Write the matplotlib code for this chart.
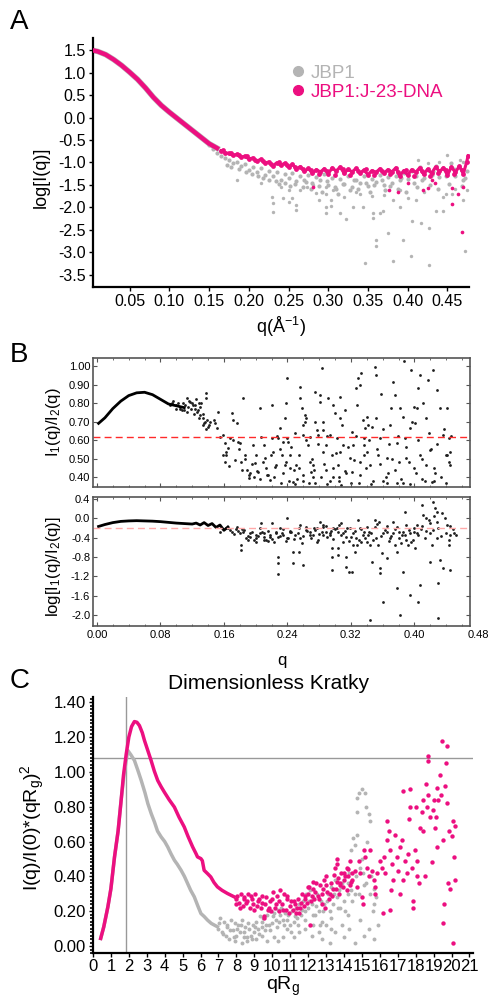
import matplotlib
matplotlib.use("Agg")
import matplotlib.pyplot as plt
from matplotlib.lines import Line2D
from matplotlib.ticker import MultipleLocator, FormatStrFormatter, NullFormatter

plt.rcParams['font.family'] = ['Liberation Sans', 'DejaVu Sans']
plt.rcParams['mathtext.fontset'] = 'custom'
plt.rcParams['mathtext.rm'] = 'Liberation Sans'
plt.rcParams['mathtext.it'] = 'Liberation Sans'
plt.rcParams['axes.unicode_minus'] = False

PINK = '#ec0f80'
GRAY = '#b4b4b4'

# ---------------- panel A : log I(q) ----------------
a_q_smooth = [0.005, 0.01, 0.02, 0.03, 0.04, 0.05, 0.06, 0.07, 0.08, 0.09, 0.10,
              0.11, 0.12, 0.13, 0.14, 0.15, 0.16]
a_logi_smooth = [1.49, 1.47, 1.40, 1.29, 1.16, 1.01, 0.85, 0.66, 0.45, 0.27, 0.12,
                 -0.02, -0.16, -0.30, -0.44, -0.58, -0.68]

a_pink_q = [0.165, 0.170, 0.175, 0.180, 0.185, 0.190, 0.195, 0.200, 0.205, 0.210,
            0.215, 0.220, 0.225, 0.230, 0.235, 0.240, 0.245, 0.250, 0.255, 0.260,
            0.265, 0.270, 0.275, 0.280, 0.285, 0.290, 0.295, 0.300, 0.305, 0.310,
            0.315, 0.320, 0.325, 0.330, 0.335, 0.340, 0.345, 0.350, 0.355, 0.360,
            0.365, 0.370, 0.375, 0.380, 0.385, 0.390, 0.395, 0.400, 0.405, 0.410,
            0.415, 0.420, 0.425, 0.430, 0.435, 0.440, 0.445, 0.450, 0.455, 0.460,
            0.465, 0.470, 0.474, 0.476]
a_pink_v = [-0.74, -0.78, -0.80, -0.84, -0.82, -0.88, -0.86, -0.92, -0.90, -0.97,
            -0.93, -1.01, -0.99, -1.08, -1.01, -1.06, -1.02, -1.10, -1.04, -1.14,
            -1.09, -1.20, -1.13, -1.24, -1.16, -1.21, -1.14, -1.25, -1.12, -1.19,
            -1.10, -1.24, -1.15, -1.21, -1.13, -1.23, -1.17, -1.27, -1.18, -1.22,
            -1.14, -1.24, -1.16, -1.21, -1.12, -1.30, -1.18, -1.28, -1.16, -1.22,
            -1.12, -1.26, -1.15, -1.24, -1.10, -1.20, -1.12, -1.28, -1.10, -1.22,
            -1.08, -1.25, -1.00, -0.85]
a_pink_extra_q = [0.168, 0.178, 0.188, 0.198, 0.208, 0.218, 0.228, 0.238, 0.248, 0.258,
                  0.268, 0.278, 0.288, 0.298, 0.308, 0.318, 0.328, 0.338, 0.348, 0.358,
                  0.368, 0.378, 0.388, 0.398, 0.408, 0.418, 0.428, 0.438, 0.448, 0.458,
                  0.468]
a_pink_extra_v = [-0.72, -0.79, -0.84, -0.86, -0.95, -0.96, -1.03, -0.99, -1.06, -1.09,
                  -1.14, -1.17, -1.26, -1.19, -1.28, -1.14, -1.27, -1.18, -1.15, -1.27,
                  -1.19, -1.26, -1.22, -1.17, -1.31, -1.18, -1.30, -1.24, -1.17, -1.26,
                  -1.16]
a_pink_out_q = [0.281, 0.376, 0.388, 0.419, 0.425, 0.434, 0.456, 0.456, 0.463, 0.468,
                0.469, 0.400, 0.430]
a_pink_out_v = [-1.54, -1.61, -1.65, -1.61, -1.57, -1.46, -1.57, -1.92, -1.69, -2.55,
                -1.54, -1.45, -1.40]

a_gray_q = [0.150, 0.155, 0.160, 0.165, 0.170, 0.175, 0.180, 0.185, 0.190, 0.195,
            0.200, 0.205, 0.210, 0.215, 0.220, 0.225, 0.230, 0.235, 0.240, 0.245,
            0.250, 0.255, 0.260, 0.265, 0.270, 0.275, 0.280, 0.285, 0.290, 0.295,
            0.300, 0.305, 0.310, 0.315, 0.320, 0.325, 0.330, 0.335, 0.340, 0.345,
            0.350, 0.355, 0.360, 0.365, 0.370, 0.375, 0.380, 0.385, 0.390, 0.395,
            0.400, 0.405, 0.410, 0.415, 0.420, 0.425, 0.430, 0.435, 0.440, 0.445,
            0.450, 0.455, 0.460, 0.465, 0.470, 0.475]
a_gray_v = [-0.62, -0.70, -0.80, -0.86, -0.90, -0.95, -1.02, -0.98, -1.08, -1.04,
            -1.16, -1.10, -1.22, -1.12, -1.28, -1.18, -1.30, -1.22, -1.38, -1.26,
            -1.34, -1.24, -1.42, -1.30, -1.38, -1.28, -1.46, -1.32, -1.40, -1.26,
            -1.50, -1.34, -1.58, -1.36, -1.48, -1.30, -1.55, -1.38, -1.46, -1.30,
            -1.52, -1.36, -1.44, -1.28, -1.50, -1.32, -1.46, -1.30, -1.40, -1.24,
            -1.36, -1.18, -1.30, -1.10, -1.34, -1.16, -1.28, -1.08, -1.32, -1.12,
            -1.24, -1.02, -1.30, -1.10, -1.40, -1.20]
a_gray_extra_q = [0.172, 0.178, 0.188, 0.196, 0.204, 0.212, 0.218, 0.226, 0.234, 0.238,
                  0.246, 0.252, 0.258, 0.268, 0.272, 0.278, 0.288, 0.292, 0.298, 0.308,
                  0.312, 0.318, 0.328, 0.332, 0.338, 0.348, 0.352, 0.358, 0.368, 0.372,
                  0.378, 0.388, 0.392, 0.398, 0.408, 0.412, 0.418, 0.428, 0.432, 0.438,
                  0.448, 0.452, 0.458, 0.468, 0.472]
a_gray_extra_v = [-1.05, -1.10, -1.15, -1.22, -1.25, -1.30, -1.35, -1.38, -1.42, -1.48,
                  -1.45, -1.52, -1.48, -1.55, -1.44, -1.60, -1.52, -1.66, -1.42, -1.55,
                  -1.70, -1.48, -1.62, -1.40, -1.58, -1.45, -1.66, -1.50, -1.38, -1.62,
                  -1.52, -1.58, -1.35, -1.65, -1.45, -1.55, -1.40, -1.50, -1.20, -1.58,
                  -1.30, -1.48, -1.15, -1.52, -1.35]
a_gray_out_q = [0.413, 0.449, 0.466, 0.440, 0.425, 0.470, 0.185, 0.229, 0.230, 0.231,
                0.243, 0.250, 0.250, 0.254, 0.260, 0.260, 0.273, 0.281, 0.289, 0.297,
                0.297, 0.297, 0.297, 0.304, 0.304, 0.306, 0.315, 0.322, 0.331, 0.344,
                0.346, 0.356, 0.356, 0.360, 0.360, 0.365, 0.369, 0.375, 0.381, 0.381,
                0.390, 0.394, 0.404, 0.406, 0.410, 0.417, 0.427, 0.427, 0.435, 0.444,
                0.444, 0.448, 0.456, 0.469, 0.472, 0.320, 0.340, 0.370, 0.390, 0.420,
                0.460, 0.215, 0.240, 0.265, 0.285, 0.335, 0.355, 0.400, 0.475]
a_gray_out_v = [-0.94, -0.83, -0.95, -1.00, -1.02, -1.00, -1.39, -1.76, -1.91, -2.11,
                -1.80, -1.61, -1.87, -1.80, -1.94, -2.06, -1.54, -1.50, -1.83, -1.54,
                -1.69, -1.98, -2.13, -1.83, -1.97, -1.61, -2.13, -2.26, -1.98, -1.98,
                -3.24, -2.13, -2.24, -2.72, -2.86, -2.13, -2.09, -2.57, -3.20, -1.83,
                -1.98, -2.72, -3.08, -2.31, -1.83, -2.35, -2.46, -3.28, -2.09, -2.09,
                -1.76, -1.69, -1.69, -1.83, -2.98, -1.76, -1.70, -1.72, -1.62, -1.65,
                -1.60, -1.45, -1.55, -1.62, -1.68, -1.66, -1.74, -1.78, -1.62]

# ---------------- panel B : ratio I1/I2 ----------------
b_q_smooth = [0.002, 0.01, 0.02, 0.03, 0.04, 0.05, 0.06, 0.07, 0.08, 0.09, 0.10, 0.11]
b_ratio_smooth = [0.69, 0.72, 0.77, 0.81, 0.84, 0.855, 0.858, 0.845, 0.82, 0.795,
                  0.785, 0.775]
b_ratio_q = [0.095, 0.100, 0.104, 0.108, 0.110, 0.115, 0.120, 0.124, 0.128, 0.130, 0.125,
             0.113, 0.117, 0.121, 0.126, 0.130, 0.134, 0.138, 0.138, 0.136, 0.134,
             0.140, 0.142, 0.147, 0.149, 0.151, 0.153, 0.155, 0.159, 0.161, 0.159,
             0.161, 0.163, 0.165, 0.168, 0.170, 0.172, 0.176, 0.178, 0.180, 0.184,
             0.182, 0.186, 0.189, 0.191, 0.193, 0.197, 0.199, 0.201, 0.205, 0.203,
             0.207, 0.210, 0.212, 0.214, 0.218, 0.220, 0.220, 0.222, 0.224, 0.226,
             0.228,
             0.239, 0.237, 0.231, 0.235, 0.239, 0.233, 0.237, 0.243, 0.243, 0.247,
             0.251, 0.254, 0.256, 0.256, 0.258, 0.260, 0.262, 0.260, 0.264, 0.266,
             0.268, 0.270, 0.272, 0.275, 0.275, 0.277, 0.279, 0.281, 0.281, 0.283,
             0.285, 0.285, 0.289, 0.291, 0.293, 0.296, 0.298, 0.300, 0.302, 0.304,
             0.306, 0.306, 0.308, 0.310, 0.319, 0.321, 0.323, 0.327, 0.328, 0.329,
             0.331, 0.333, 0.335, 0.331, 0.336, 0.338, 0.340, 0.342, 0.344, 0.347,
             0.350, 0.351, 0.352, 0.354, 0.365, 0.367, 0.369, 0.371, 0.373, 0.375,
             0.378, 0.380, 0.382, 0.386, 0.387, 0.390, 0.394, 0.396, 0.399, 0.401,
             0.403, 0.407, 0.411, 0.415, 0.417, 0.420, 0.424, 0.428, 0.432, 0.436,
             0.441, 0.443, 0.445, 0.441, 0.445, 0.426, 0.422, 0.399, 0.378, 0.365,
             0.356, 0.336, 0.321, 0.298, 0.289, 0.272, 0.268, 0.249, 0.241, 0.340,
             0.314, 0.306, 0.285, 0.415, 0.407, 0.388,
             0.232, 0.250, 0.260, 0.275, 0.290, 0.305, 0.330, 0.345, 0.360, 0.385,
             0.395, 0.410, 0.425, 0.440]
b_ratio_v = [0.80, 0.79, 0.77, 0.80, 0.76, 0.78, 0.80, 0.77, 0.80, 0.78, 0.82,
             0.825, 0.807, 0.789, 0.753, 0.735, 0.717, 0.852, 0.825, 0.699, 0.681,
             0.672, 0.699, 0.708, 0.690, 0.663, 0.753, 0.618, 0.627, 0.582, 0.519,
             0.483, 0.537, 0.555, 0.609, 0.744, 0.708, 0.690, 0.591, 0.582, 0.825,
             0.483, 0.519, 0.438, 0.393, 0.420, 0.573, 0.474, 0.519, 0.771, 0.429,
             0.618, 0.573, 0.501, 0.411, 0.384, 0.789, 0.609, 0.537, 0.456, 0.465,
             0.609,
             0.933, 0.717, 0.663, 0.591, 0.609, 0.519, 0.465, 0.519, 0.447, 0.375,
             0.465, 0.447, 0.888, 0.825, 0.771, 0.681, 0.735, 0.627, 0.717, 0.573,
             0.483, 0.429, 0.402, 0.861, 0.699, 0.654, 0.627, 0.843, 0.807, 0.991,
             0.537, 0.699, 0.573, 0.825, 0.627, 0.519, 0.789, 0.744, 0.609, 0.465,
             0.834, 0.717, 0.357, 0.573, 0.501, 0.645, 0.573, 0.879, 0.789, 0.933,
             0.897, 0.960, 0.708, 0.483, 0.609, 0.663, 0.726, 0.681, 0.465, 0.672,
             0.996, 0.951, 0.717, 0.519, 0.501, 0.420, 0.681, 0.771, 0.915, 0.843,
             0.582, 0.483, 0.771, 0.726, 1.027, 0.501, 0.663, 0.978, 0.780, 0.690,
             0.771, 0.951, 0.798, 0.717, 0.924, 0.546, 0.978, 0.870, 0.771, 0.627,
             0.771, 0.609, 0.537, 0.519, 0.465, 0.420, 0.375, 0.447, 0.366, 0.366,
             0.609, 0.573, 0.429, 0.402, 0.438, 0.465, 0.618, 0.636, 0.591, 0.537,
             0.420, 0.537, 0.654, 0.465, 0.519, 0.609,
             0.37, 0.36, 0.38, 0.37, 0.36, 0.38, 0.37, 0.36, 0.38, 0.37,
             0.36, 0.39, 0.38, 0.37]
b_ratio_extra_q = [0.162, 0.166, 0.171, 0.174, 0.179, 0.183, 0.187, 0.192, 0.195, 0.198,
                   0.202, 0.206, 0.209, 0.213, 0.216, 0.219, 0.223, 0.227, 0.230, 0.234,
                   0.238, 0.242, 0.245, 0.248, 0.252, 0.255, 0.259, 0.263, 0.267, 0.271,
                   0.274, 0.278, 0.282, 0.286, 0.290, 0.294, 0.297, 0.301, 0.305, 0.309,
                   0.312, 0.316, 0.320, 0.324, 0.327, 0.332, 0.336, 0.339, 0.343, 0.348,
                   0.353, 0.357, 0.361, 0.364, 0.368, 0.372, 0.376, 0.379, 0.383, 0.389,
                   0.393, 0.397, 0.402, 0.405, 0.409, 0.413, 0.418, 0.421, 0.425, 0.429,
                   0.433, 0.437, 0.440, 0.444, 0.446, 0.238, 0.262, 0.312, 0.358, 0.404,
                   0.092, 0.096, 0.099, 0.102, 0.105, 0.107, 0.111, 0.114, 0.116, 0.119,
                   0.122, 0.123, 0.127, 0.129, 0.131, 0.133, 0.135, 0.137, 0.139, 0.141]
b_ratio_extra_v = [0.52, 0.46, 0.60, 0.49, 0.55, 0.44, 0.50, 0.41, 0.47, 0.40,
                   0.43, 0.39, 0.48, 0.45, 0.41, 0.52, 0.40, 0.62, 0.55, 0.42,
                   0.48, 0.38, 0.56, 0.44, 0.39, 0.52, 0.41, 0.60, 0.37, 0.50,
                   0.44, 0.58, 0.40, 0.47, 0.62, 0.38, 0.45, 0.53, 0.40, 0.68,
                   0.43, 0.56, 0.37, 0.49, 0.62, 0.41, 0.52, 0.45, 0.60, 0.38,
                   0.55, 0.47, 0.66, 0.40, 0.58, 0.50, 0.44, 0.62, 0.39, 0.56,
                   0.48, 0.70, 0.42, 0.60, 0.50, 0.38, 0.64, 0.55, 0.45, 0.58,
                   0.40, 0.66, 0.52, 0.48, 0.62, 0.80, 0.70, 0.76, 0.85, 0.88,
                   0.79, 0.81, 0.77, 0.80, 0.78, 0.76, 0.79, 0.75, 0.81, 0.77,
                   0.74, 0.79, 0.76, 0.72, 0.80, 0.74, 0.69, 0.66, 0.71, 0.68]
b_ratio_ref = 0.615

# ---------------- panel B : log ratio ----------------
b_lq_smooth = [0.002, 0.01, 0.02, 0.03, 0.04, 0.05, 0.06, 0.07, 0.08, 0.09, 0.10, 0.11,
               0.12, 0.125, 0.13, 0.135, 0.14, 0.145, 0.15, 0.155, 0.16, 0.165]
b_lratio_smooth = [-0.17, -0.13, -0.09, -0.065, -0.055, -0.05, -0.055, -0.06, -0.07,
                   -0.085, -0.10, -0.11, -0.12, -0.10, -0.14, -0.09, -0.15, -0.11,
                   -0.19, -0.14, -0.25, -0.18]
b_lratio_q = [0.155, 0.163, 0.176, 0.184, 0.193, 0.201, 0.210, 0.218, 0.226,
              0.182, 0.182, 0.228, 0.228, 0.228, 0.205, 0.207, 0.220, 0.190, 0.210,
              0.200, 0.215,
              0.231, 0.235, 0.239, 0.241, 0.247, 0.247, 0.254, 0.260, 0.256, 0.264,
              0.268, 0.272, 0.277, 0.281, 0.285, 0.289, 0.293, 0.296, 0.296, 0.296,
              0.298, 0.304, 0.304, 0.308, 0.310, 0.314, 0.314, 0.314, 0.317, 0.321,
              0.323, 0.325, 0.329, 0.331, 0.336, 0.340, 0.344, 0.346, 0.350, 0.352,
              0.354, 0.356, 0.356, 0.359, 0.361, 0.365, 0.369, 0.373, 0.375, 0.378,
              0.382, 0.384, 0.386, 0.388, 0.390, 0.392, 0.394, 0.399, 0.403, 0.405,
              0.407, 0.409, 0.411, 0.415, 0.420, 0.422, 0.424, 0.426, 0.428, 0.428,
              0.430, 0.432, 0.436, 0.443, 0.445, 0.445, 0.430, 0.344, 0.420, 0.441,
              0.378, 0.365, 0.396, 0.401, 0.380, 0.285, 0.277, 0.256, 0.243, 0.327,
              0.342, 0.304, 0.319, 0.333,
              0.165, 0.170, 0.175, 0.180, 0.185, 0.190, 0.195, 0.200, 0.205, 0.210,
              0.215, 0.220, 0.225, 0.230, 0.235, 0.240, 0.245, 0.250, 0.255, 0.260,
              0.265, 0.270, 0.275, 0.280, 0.285, 0.290, 0.295, 0.300, 0.305, 0.310,
              0.315, 0.320, 0.325, 0.330, 0.335, 0.340, 0.345, 0.350, 0.355, 0.360,
              0.365, 0.370, 0.375, 0.380, 0.385, 0.390, 0.395, 0.400, 0.405, 0.410,
              0.415, 0.420, 0.425, 0.430, 0.435, 0.440, 0.445, 0.450]
b_lratio_v = [-0.276, -0.207, -0.172, -0.276, -0.379, -0.345, -0.310, -0.379, -0.276,
              -0.552, -0.655, -0.793, -0.931, -1.152, -0.210, -0.103, -0.100, -0.450,
              -0.450, -0.500, -0.480,
              -0.207, -0.345, 0.000, -0.414, -0.690, -0.931, -0.690, -0.965, -0.138,
              -0.172, -0.276, -0.345, -0.207, -0.069, -0.138, -0.276, -0.345, -0.621,
              -0.793, -1.069, -0.207, -0.621, -0.758, -0.103, -0.483, -0.379, -0.793,
              -1.000, -1.103, -1.103, -0.552, -0.690, -0.034, -0.207, -0.276, -0.172,
              -0.552, -0.896, -0.034, -0.414, -0.552, -1.034, -1.138, -0.724, -1.724,
              -0.276, -0.414, -0.069, -0.552, -1.448, -2.000, -0.345, -1.103, 0.138,
              -0.138, -0.552, -1.586, -0.276, -0.138, -1.724, -1.379, 0.276, 0.069,
              0.000, -0.310, -0.552, 0.345, 0.207, -0.069, -0.414, -1.345, -0.862,
              -1.034, -0.552, -0.345, -1.069, -2.069, -2.103, -0.896, -0.138, -0.690,
              -0.827, -0.483, -0.621, -0.276, -0.345, -0.483, -0.414, -0.276, -0.414,
              -0.345, -0.276, -0.207, -0.483,
              -0.20, -0.28, -0.22, -0.30, -0.24, -0.36, -0.28, -0.40, -0.30, -0.38,
              -0.26, -0.42, -0.30, -0.36, -0.22, -0.40, -0.28, -0.34, -0.20, -0.36,
              -0.26, -0.40, -0.24, -0.32, -0.18, -0.38, -0.26, -0.22, -0.14, -0.30,
              -0.20, -0.38, -0.26, -0.46, -0.34, -0.50, -0.30, -0.18, -0.08, -0.30,
              -0.16, -0.36, -0.22, -0.40, -0.28, -0.44, -0.30, -0.20, -0.34, -0.16,
              -0.26, -0.10, 0.05, -0.20, 0.10, -0.30, -0.16, -0.30]
b_lratio_extra_q = [0.168, 0.173, 0.178, 0.183, 0.188, 0.193, 0.198, 0.203, 0.208, 0.213,
                    0.218, 0.223, 0.228, 0.233, 0.238, 0.243, 0.248, 0.253, 0.258, 0.263,
                    0.268, 0.273, 0.278, 0.283, 0.288, 0.293, 0.298, 0.303, 0.308, 0.313,
                    0.318, 0.323, 0.328, 0.333, 0.338, 0.343, 0.348, 0.353, 0.358, 0.363,
                    0.368, 0.373, 0.378, 0.383, 0.388, 0.393, 0.398, 0.403, 0.408, 0.413,
                    0.418, 0.423, 0.428, 0.433, 0.438, 0.443, 0.448, 0.452]
b_lratio_extra_v = [-0.24, -0.32, -0.26, -0.22, -0.40, -0.30, -0.46, -0.36, -0.28, -0.44,
                    -0.34, -0.50, -0.38, -0.30, -0.48, -0.26, -0.42, -0.30, -0.52, -0.24,
                    -0.34, -0.20, -0.46, -0.28, -0.16, -0.30, -0.42, -0.20, -0.34, -0.26,
                    -0.48, -0.30, -0.56, -0.22, -0.40, -0.28, -0.44, -0.12, -0.36, -0.24,
                    -0.48, -0.30, -0.18, -0.52, -0.34, -0.24, -0.46, -0.30, -0.22, -0.40,
                    -0.04, -0.24, 0.12, -0.36, 0.00, -0.46, -0.22, -0.34]
b_lratio_ref = -0.21
b_xticks = [0.00, 0.08, 0.16, 0.24, 0.32, 0.40, 0.48]

# ---------------- panel C : dimensionless Kratky ----------------
c_pink_x = [0.43, 0.6, 0.83, 1.0, 1.2, 1.4, 1.57, 1.7, 1.85, 2.0, 2.15, 2.31, 2.45,
            2.59, 2.75, 2.87, 3.05, 3.24, 3.42, 3.61, 3.8, 3.98, 4.25, 4.54, 4.8,
            5.09, 5.3, 5.56, 5.75, 5.83, 6.02, 6.1, 6.2, 6.4, 6.57, 6.75, 6.94, 7.2,
            7.5, 7.87]
c_pink_v = [0.044, 0.11, 0.225, 0.33, 0.512, 0.66, 0.837, 0.98, 1.10, 1.20, 1.26,
            1.289, 1.285, 1.266, 1.225, 1.181, 1.125, 1.066, 1.005, 0.951, 0.915,
            0.884, 0.84, 0.798, 0.74, 0.684, 0.63, 0.569, 0.53, 0.512, 0.502, 0.49,
            0.435, 0.415, 0.397, 0.365, 0.340, 0.32, 0.302, 0.283]
c_pink_band_x = [7.95, 8.05, 8.15, 8.25, 8.35, 8.45, 8.55, 8.65, 8.75, 8.85, 8.95,
                 9.05, 9.15, 9.25, 9.35, 9.45, 9.55, 9.65, 9.75, 9.85, 9.95, 10.05,
                 10.15, 10.25, 10.35, 10.45, 10.55, 10.65, 10.75, 10.85, 10.95, 11.05,
                 11.15, 11.25, 11.35, 11.45, 11.55, 11.65, 11.75, 11.85, 11.95, 12.05,
                 12.15, 12.25, 12.35, 12.45, 12.55, 12.65, 12.75, 12.85, 12.95, 13.05,
                 13.15, 13.25, 13.35, 13.45, 13.55, 13.65, 13.75, 13.85, 13.95, 14.05,
                 14.15, 14.25, 14.35, 14.45]
c_pink_band_v = [0.24, 0.29, 0.25, 0.30, 0.23, 0.28, 0.25, 0.30, 0.22, 0.27, 0.24,
                 0.30, 0.23, 0.27, 0.22, 0.25, 0.17, 0.28, 0.21, 0.26, 0.20, 0.31,
                 0.22, 0.29, 0.20, 0.32, 0.24, 0.30, 0.21, 0.27, 0.19, 0.26, 0.21,
                 0.24, 0.19, 0.27, 0.22, 0.30, 0.23, 0.29, 0.25, 0.34, 0.26, 0.33,
                 0.27, 0.36, 0.29, 0.35, 0.24, 0.33, 0.22, 0.31, 0.27, 0.36, 0.29,
                 0.41, 0.33, 0.39, 0.30, 0.42, 0.34, 0.40, 0.32, 0.44, 0.35, 0.42]
c_pink_extra_x = [8.0, 8.2, 8.4, 8.6, 8.8, 9.0, 9.2, 9.4, 9.6, 9.8, 10.0, 10.2, 10.4,
                  10.6, 10.8, 11.0, 11.2, 11.4, 11.6, 11.8, 12.0, 12.2, 12.4, 12.6,
                  12.8, 13.0, 13.2, 13.4, 13.6, 13.8, 14.0, 14.2, 14.4]
c_pink_extra_v = [0.27, 0.22, 0.27, 0.26, 0.29, 0.21, 0.26, 0.29, 0.24, 0.22, 0.27,
                  0.24, 0.26, 0.21, 0.29, 0.23, 0.26, 0.22, 0.25, 0.27, 0.30, 0.29,
                  0.31, 0.27, 0.30, 0.35, 0.30, 0.33, 0.37, 0.35, 0.38, 0.40, 0.37]
c_pink_sc_x = [13.6, 13.6, 12.9, 9.53, 12.12, 11.5, 12.0, 12.3, 13.0, 13.5,
               13.8, 13.99, 14.17, 14.36, 14.45, 14.63, 14.73, 14.82, 14.91, 15.0,
               15.06, 15.1, 15.19, 15.28, 15.37, 15.47, 15.56, 15.65, 15.74, 15.84,
               15.74, 16.02, 16.11, 16.21, 16.17, 16.3, 16.39, 16.49, 16.39, 16.58,
               16.58, 16.62, 16.67, 16.76, 16.86, 16.95, 17.04, 17.1, 17.13, 17.23,
               17.32, 17.32, 17.41, 17.5, 17.6, 17.65, 17.69, 17.69, 17.78, 17.87,
               17.87, 17.97, 18.02, 18.06, 18.1, 18.21, 18.24, 18.34, 18.39, 18.43,
               18.52, 18.58, 18.65, 18.71, 18.71, 18.71, 18.8, 18.89, 18.95, 19.02,
               19.08, 19.13, 19.17, 19.21, 19.26, 19.36, 19.39, 19.45, 19.5, 19.54,
               19.58, 19.63, 19.69, 19.73, 19.73, 19.82, 19.87, 19.91, 20.0, 20.06,
               20.1, 20.13, 20.19, 20.19]
c_pink_sc_v = [0.50, 0.47, 0.38, 0.16, 0.12, 0.19, 0.34, 0.37, 0.40, 0.45,
               0.36, 0.42, 0.45, 0.49, 0.38, 0.43, 0.34, 0.49, 0.42, 0.28,
               0.24, 0.55, 0.51, 0.45, 0.40, 0.55, 0.43, 0.38, 0.34, 0.42,
               0.30, 0.49, 0.45, 0.51, 0.19, 0.42, 0.72, 0.66, 0.61, 0.55,
               0.21, 0.32, 0.47, 0.38, 0.64, 0.51, 0.43, 0.30, 0.57, 0.61,
               0.89, 0.38, 0.49, 0.42, 0.53, 0.73, 0.90, 0.80, 0.45, 0.26,
               0.22, 0.55, 0.80, 0.49, 0.40, 0.36, 0.68, 0.77, 0.84, 0.66,
               0.40, 0.93, 0.80, 1.09, 1.06, 0.87, 0.74, 0.48, 0.78, 0.84,
               0.68, 0.74, 0.91, 0.57, 0.84, 0.98, 0.87, 1.18, 0.61, 0.13,
               0.24, 0.92, 1.05, 1.15, 0.82, 0.36, 0.66, 0.33, 0.63, 0.015,
               0.72, 0.51, 0.69, 0.38]

c_gray_x = [0.43, 0.6, 0.83, 1.0, 1.2, 1.4, 1.57, 1.75, 1.94, 2.1, 2.31, 2.5, 2.69,
            2.9, 3.06, 3.25, 3.43, 3.6, 3.80, 4.0, 4.17, 4.35, 4.54, 4.7, 4.91, 5.1,
            5.28, 5.45, 5.65, 5.85, 6.02, 6.2, 6.39, 6.6, 6.94]
c_gray_v = [0.044, 0.11, 0.225, 0.33, 0.51, 0.66, 0.84, 1.0, 1.123, 1.10, 1.066,
            1.01, 0.951, 0.88, 0.818, 0.76, 0.712, 0.66, 0.627, 0.60, 0.569, 0.53,
            0.493, 0.47, 0.436, 0.40, 0.359, 0.32, 0.283, 0.23, 0.187, 0.17, 0.149,
            0.13, 0.111]
c_gray_band_x = [7.0, 7.1, 7.2, 7.3, 7.4, 7.5, 7.6, 7.7, 7.8, 7.9, 8.0, 8.1, 8.2, 8.3,
                 8.4, 8.5, 8.6, 8.7, 8.8, 8.9, 9.0, 9.1, 9.2, 9.3, 9.4, 9.5, 9.6, 9.7,
                 9.8, 9.9, 10.0, 10.1, 10.2, 10.3, 10.4, 10.5, 10.6, 10.7, 10.8, 10.9,
                 11.0, 11.1, 11.2, 11.3, 11.4, 11.5, 11.6, 11.7, 11.8, 11.9, 12.0,
                 12.1, 12.2, 12.3, 12.4, 12.5, 12.6, 12.7, 12.8, 12.9, 13.0, 13.1,
                 13.2, 13.3, 13.4, 13.5, 13.6, 13.7, 13.8, 13.9, 14.0, 14.1, 14.2,
                 14.3, 14.4]
c_gray_band_v = [0.10, 0.16, 0.08, 0.14, 0.06, 0.12, 0.04, 0.15, 0.09, 0.13, 0.06,
                 0.12, 0.08, 0.15, 0.05, 0.11, 0.03, 0.10, 0.06, 0.12, 0.08, 0.14,
                 0.10, 0.17, 0.11, 0.16, 0.09, 0.18, 0.12, 0.20, 0.13, 0.19, 0.15,
                 0.21, 0.14, 0.22, 0.15, 0.19, 0.10, 0.18, 0.12, 0.20, 0.14, 0.22,
                 0.16, 0.24, 0.18, 0.26, 0.20, 0.30, 0.22, 0.32, 0.24, 0.28, 0.18,
                 0.30, 0.20, 0.26, 0.14, 0.24, 0.12, 0.30, 0.20, 0.34, 0.24, 0.38,
                 0.28, 0.32, 0.22, 0.36, 0.26, 0.40, 0.30, 0.42, 0.32]
c_gray_extra_x = [7.05, 7.25, 7.45, 7.65, 7.85, 8.05, 8.25, 8.45, 8.65, 8.85, 9.05,
                  9.25, 9.45, 9.65, 9.85, 10.05, 10.25, 10.45, 10.65, 10.85, 11.05,
                  11.25, 11.45, 11.65, 11.85, 12.05, 12.25, 12.45, 12.65, 12.85, 13.05,
                  13.25, 13.45, 13.65, 13.85, 14.05, 14.25, 14.45, 14.65, 14.85, 15.05,
                  15.25, 15.45, 15.65]
c_gray_extra_v = [0.13, 0.07, 0.11, 0.09, 0.05, 0.10, 0.12, 0.08, 0.13, 0.04, 0.11,
                  0.07, 0.14, 0.12, 0.09, 0.17, 0.11, 0.18, 0.12, 0.15, 0.08, 0.17,
                  0.12, 0.21, 0.15, 0.26, 0.18, 0.23, 0.12, 0.20, 0.26, 0.16, 0.30,
                  0.22, 0.34, 0.20, 0.36, 0.26, 0.40, 0.30, 0.42, 0.36, 0.30, 0.24]
c_gray_sc_x = [7.9, 8.3, 8.6, 9.1, 9.4, 10.3, 10.6, 11.2, 11.5, 12.2, 12.8, 13.2,
               13.5, 14.0, 14.3, 14.6, 14.9, 15.1, 15.4, 15.7,
               14.4, 14.5, 14.6, 14.7, 14.7, 14.7, 14.85, 15.0, 15.2, 15.25, 15.4,
               15.45, 15.3, 15.0, 14.9, 15.5, 15.7, 15.8, 15.6, 15.9, 14.2, 13.9,
               14.6, 15.1, 13.3, 12.6, 11.8, 12.3, 10.1, 9.7]
c_gray_sc_v = [0.03, 0.02, 0.05, 0.04, 0.06, 0.03, 0.05, 0.05, 0.08, 0.06, 0.04, 0.02,
               0.08, 0.05, 0.10, 0.02, 0.15, 0.06, 0.10, 0.04,
               0.55, 0.62, 0.58, 0.64, 0.77, 0.85, 0.88, 0.90, 0.88, 0.80, 0.76,
               0.72, 0.60, 0.50, 0.45, 0.40, 0.33, 0.28, 0.20, 0.12, 0.18, 0.12,
               0.30, 0.35, 0.10, 0.08, 0.10, 0.12, 0.05, 0.03]
c_hline = 1.08
c_vline = 1.85

fig = plt.figure(figsize=(4.91, 9.99), dpi=100)

# ---- A ----
axA = fig.add_axes([0.1894, 0.7127, 0.7656, 0.2493])
axA.plot(a_q_smooth, a_logi_smooth, color=GRAY, lw=4, zorder=2)
axA.scatter(a_gray_q, a_gray_v, s=9, color=GRAY, lw=0, zorder=1)
axA.scatter(a_gray_extra_q, a_gray_extra_v, s=9, color=GRAY, lw=0, zorder=1)
axA.scatter(a_gray_out_q, a_gray_out_v, s=6, color=GRAY, lw=0, zorder=1)
axA.plot(a_q_smooth, a_logi_smooth, color=PINK, lw=3.2, zorder=3)
axA.plot(a_pink_q, a_pink_v, color=PINK, lw=2.2, zorder=3)
axA.scatter(a_pink_q, a_pink_v, s=12, color=PINK, lw=0, zorder=3)
axA.scatter(a_pink_extra_q, a_pink_extra_v, s=12, color=PINK, lw=0, zorder=3)
axA.scatter(a_pink_out_q, a_pink_out_v, s=7, color=PINK, lw=0, zorder=3)
axA.set_xlim(0.004, 0.477)
axA.set_ylim(-3.77, 1.77)
axA.set_xticks([0.05, 0.10, 0.15, 0.20, 0.25, 0.30, 0.35, 0.40, 0.45])
axA.xaxis.set_major_formatter(FormatStrFormatter('%.2f'))
axA.set_yticks([1.5, 1.0, 0.5, 0.0, -0.5, -1.0, -1.5, -2.0, -2.5, -3.0, -3.5])
axA.yaxis.set_major_formatter(FormatStrFormatter('%.1f'))
for s in ['top', 'right']:
    axA.spines[s].set_visible(False)
for s in ['left', 'bottom']:
    axA.spines[s].set_linewidth(1.6)
axA.tick_params(labelsize=11.5, length=3, width=1, pad=2)
axA.set_ylabel('log[I(q)]', fontsize=13)
axA.yaxis.set_label_coords(-0.115, 0.44)
axA.set_xlabel('q(Å$^{-1}$)', fontsize=13)
axA.xaxis.set_label_coords(0.5, -0.11)
handles = [Line2D([], [], ls='', marker='o', ms=7, color=GRAY),
           Line2D([], [], ls='', marker='o', ms=7, color=PINK)]
axA.legend(handles, ['JBP1', 'JBP1:J-23-DNA'], loc='upper left',
           bbox_to_anchor=(0.49, 0.93), frameon=False, fontsize=13.5,
           labelcolor=[GRAY, PINK], handletextpad=0.1, borderpad=0,
           labelspacing=0.1, handlelength=1.2)

# ---- B top ----
frame = '#555555'
DOT = '#1e1e1e'
axB1 = fig.add_axes([0.1894, 0.5125, 0.7678, 0.1291])
axB1.plot(b_q_smooth, b_ratio_smooth, color='black', lw=2)
axB1.scatter(b_ratio_q, b_ratio_v, s=4, color=DOT, lw=0)
axB1.scatter(b_ratio_extra_q, b_ratio_extra_v, s=4, color=DOT, lw=0)
axB1.axhline(b_ratio_ref, color='#ff2a2a', lw=1, ls=(0, (5, 3)))
axB1.set_xlim(-0.005, 0.470)
axB1.set_ylim(0.346, 1.043)
axB1.set_yticks([0.40, 0.50, 0.60, 0.70, 0.80, 0.90, 1.00])
axB1.yaxis.set_major_formatter(FormatStrFormatter('%.2f'))
axB1.set_xticks(b_xticks[:-1])
axB1.tick_params(labelbottom=False)
axB1.set_ylabel('I$_1$(q)/I$_2$(q)', fontsize=12)
axB1.yaxis.set_label_coords(-0.08, 0.5)

# ---- B bottom ----
axB2 = fig.add_axes([0.1894, 0.3734, 0.7678, 0.1291])
axB2.plot(b_lq_smooth, b_lratio_smooth, color='black', lw=2)
axB2.scatter(b_lratio_q, b_lratio_v, s=4, color=DOT, lw=0)
axB2.scatter(b_lratio_extra_q, b_lratio_extra_v, s=4, color=DOT, lw=0)
axB2.axhline(b_lratio_ref, color='#ffaaaa', lw=1, ls=(0, (5, 3)))
axB2.set_xlim(-0.005, 0.470)
axB2.set_ylim(-2.23, 0.44)
axB2.set_yticks([0.4, 0.0, -0.4, -0.8, -1.2, -1.6, -2.0])
axB2.yaxis.set_major_formatter(FormatStrFormatter('%.1f'))
axB2.set_xticks(b_xticks[:-1])
axB2.xaxis.set_major_formatter(NullFormatter())
# q labels written as text so the last one (0.48, just past the frame) lines up too
for t in b_xticks:
    axB2.text(t, -0.028, '%.2f' % t, transform=axB2.get_xaxis_transform(),
              ha='center', va='top', fontsize=8, clip_on=False)
axB2.set_ylabel('log[I$_1$(q)/I$_2$(q)]', fontsize=12)
axB2.yaxis.set_label_coords(-0.08, 0.46)
axB2.set_xlabel('q', fontsize=12)
axB2.xaxis.set_label_coords(0.5, -0.21)

for ax in (axB1, axB2):
    for s in ax.spines.values():
        s.set_color(frame)
        s.set_linewidth(1.2)
    ax.xaxis.set_minor_locator(MultipleLocator(0.02))
    ax.tick_params(which='both', direction='in', top=True, right=True,
                   labelsize=8, color=frame, pad=2)
    ax.tick_params(which='major', length=3)
    ax.tick_params(which='minor', length=1.5)

# ---- C ----
axC = fig.add_axes([0.1894, 0.046, 0.774, 0.2563])
axC.axhline(c_hline, color='#999999', lw=1)
axC.axvline(c_vline, color='#999999', lw=1)
axC.plot(c_gray_x, c_gray_v, color=GRAY, lw=2.5, zorder=2)
axC.scatter(c_gray_band_x, c_gray_band_v, s=8, color=GRAY, lw=0, zorder=2)
axC.scatter(c_gray_extra_x, c_gray_extra_v, s=8, color=GRAY, lw=0, zorder=2)
axC.scatter(c_gray_sc_x, c_gray_sc_v, s=8, color=GRAY, lw=0, zorder=2)
axC.plot(c_pink_x, c_pink_v, color=PINK, lw=2.5, zorder=3)
axC.scatter(c_pink_band_x, c_pink_band_v, s=10, color=PINK, lw=0, zorder=3)
axC.scatter(c_pink_extra_x, c_pink_extra_v, s=10, color=PINK, lw=0, zorder=3)
axC.scatter(c_pink_sc_x, c_pink_sc_v, s=10, color=PINK, lw=0, zorder=3)
axC.set_xlim(0, 21.2)
axC.set_ylim(-0.04, 1.43)
axC.set_xticks(range(0, 22))
axC.set_yticks([0.0, 0.2, 0.4, 0.6, 0.8, 1.0, 1.2, 1.4])
axC.yaxis.set_major_formatter(FormatStrFormatter('%.2f'))
axC.yaxis.set_minor_locator(MultipleLocator(0.02))
for s in ['top', 'right']:
    axC.spines[s].set_visible(False)
for s in ['left', 'bottom']:
    axC.spines[s].set_linewidth(1.6)
axC.tick_params(which='major', labelsize=12, length=3, width=1, pad=2)
axC.tick_params(axis='x', labelsize=12, pad=1)
axC.tick_params(which='minor', length=2.5, width=1.2)
axC.set_ylabel('I(q)/I(0)*(qR$_g$)$^2$', fontsize=14)
axC.yaxis.set_label_coords(-0.12, 0.49)
axC.set_xlabel('qR$_g$', fontsize=14)
axC.xaxis.set_label_coords(0.5, -0.085)

fig.text(0.546, 0.316, 'Dimensionless Kratky', fontsize=15, ha='center', va='center')
fig.text(0.02, 0.978, 'A', fontsize=20, va='center')
fig.text(0.02, 0.645, 'B', fontsize=20, va='center')
fig.text(0.02, 0.318, 'C', fontsize=20, va='center')

fig.savefig('out.png', dpi=100)
